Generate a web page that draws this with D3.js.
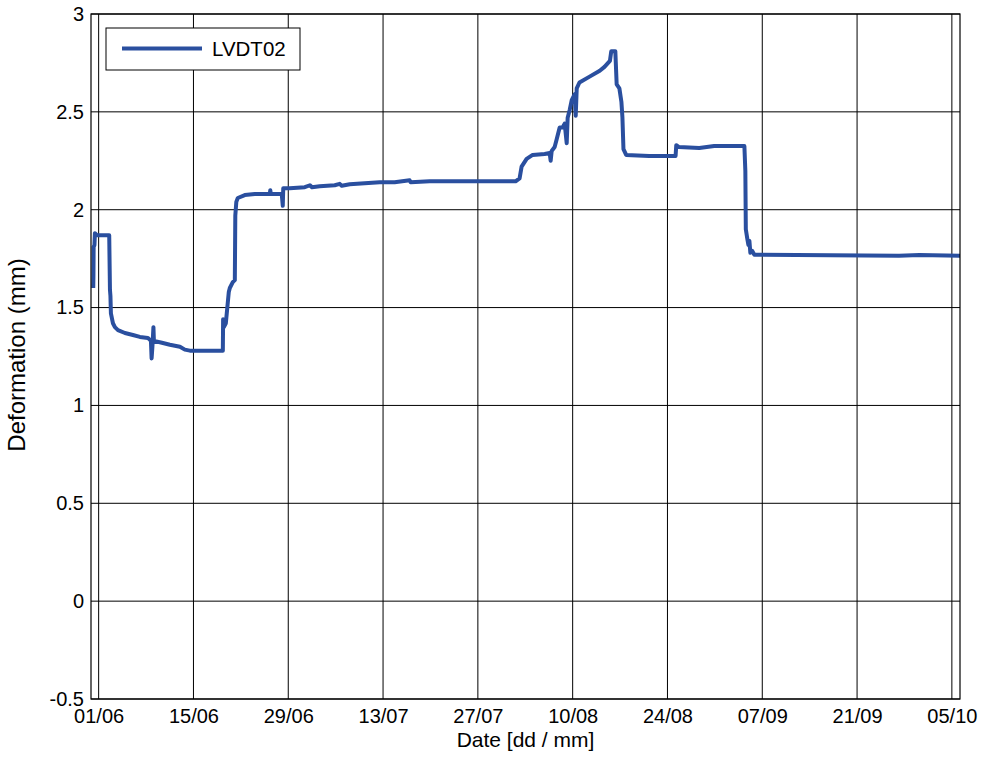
<!DOCTYPE html>
<html><head><meta charset="utf-8">
<script src="https://cdn.jsdelivr.net/npm/d3@7"></script>
<style>body{margin:0;background:#fff;} text{font-family:"Liberation Sans",Arial,sans-serif;}</style>
</head><body>
<svg id="chart" width="981" height="760"></svg>
<script>
// Days after 01/06 (fractional) and deformation (mm)
const days = [-0.80,-0.77,-0.74,-0.62,-0.55,-0.25,1.56,1.67,1.74,1.81,2.11,2.40,2.85,3.88,5.06,6.09,7.27,7.72,7.82,7.94,8.09,8.16,9.34,10.52,12.0,12.73,13.47,18.34,18.38,18.49,18.78,19.22,19.37,19.81,20.11,20.18,20.33,20.55,21.58,23.06,25.27,25.35,25.42,27.04,27.19,27.26,28.22,30.44,31.2,31.5,32.65,34.86,35.6,35.9,37.08,39.29,41.5,43.71,45.93,46.08,48.88,61.57,62.16,62.46,63.2,64.09,65.86,66.6,66.75,66.9,67.34,67.64,68.08,68.52,68.82,69.12,69.26,69.56,69.86,70.3,70.45,70.6,71.0,72.5,74.0,74.7,75.5,75.7,76.3,76.5,76.9,77.2,77.35,77.5,77.9,81.3,85.2,85.3,85.7,88.7,90.9,93.1,95.36,95.5,95.57,95.8,95.95,96.1,96.24,96.5,96.83,118.2,121.2,127.2];
const deformation = [1.60,1.66,1.81,1.82,1.88,1.87,1.87,1.59,1.56,1.47,1.42,1.40,1.385,1.37,1.36,1.35,1.345,1.33,1.24,1.30,1.40,1.33,1.32,1.31,1.30,1.285,1.28,1.28,1.44,1.40,1.42,1.58,1.60,1.63,1.64,1.97,2.04,2.06,2.075,2.08,2.08,2.10,2.08,2.08,2.02,2.11,2.11,2.115,2.125,2.115,2.12,2.125,2.132,2.122,2.13,2.135,2.14,2.14,2.15,2.14,2.145,2.145,2.16,2.22,2.26,2.28,2.285,2.29,2.25,2.30,2.32,2.36,2.42,2.42,2.44,2.34,2.47,2.51,2.56,2.59,2.48,2.62,2.65,2.68,2.71,2.73,2.76,2.81,2.81,2.64,2.62,2.55,2.47,2.31,2.28,2.275,2.275,2.33,2.32,2.315,2.325,2.325,2.325,2.2,1.90,1.85,1.82,1.84,1.78,1.79,1.77,1.765,1.768,1.765];
const xTickLabels = ["01/06","15/06","29/06","13/07","27/07","10/08","24/08","07/09","21/09","05/10"];
const yTicks = [-0.5,0,0.5,1,1.5,2,2.5,3];
const seriesName = "LVDT02";

const base = Date.UTC(2012,5,1);
const toDate = d => new Date(base + d*864e5);
const data = days.map((d,i)=>({t:toDate(d), v:deformation[i]}));
const tickDates = xTickLabels.map((_,i)=>toDate(i*14));

const svg = d3.select("#chart");
const L=91, R=960, T=14, B=699;
const x = d3.scaleUtc().domain([toDate(-1.13), toDate(127.2)]).range([L,R]);
const y = d3.scaleLinear().domain([-0.5,3]).range([B,T]);
const FONT = "Liberation Sans, Arial, sans-serif";

// gridlines
svg.append("g").selectAll("line").data(tickDates).join("line")
  .attr("x1",d=>x(d)).attr("x2",d=>x(d)).attr("y1",T).attr("y2",B)
  .attr("stroke","#000").attr("stroke-width",1);
svg.append("g").selectAll("line").data(yTicks).join("line")
  .attr("x1",L).attr("x2",R).attr("y1",d=>y(d)).attr("y2",d=>y(d))
  .attr("stroke","#000").attr("stroke-width",1);

// axes
const xAxis = d3.axisBottom(x).tickValues(tickDates).tickFormat((d,i)=>xTickLabels[i]).tickSize(0).tickPadding(10);
const gx = svg.append("g").attr("transform",`translate(0,${B})`).call(xAxis);
gx.select(".domain").remove();
gx.selectAll("text").attr("font-size",20).attr("fill","#000").attr("font-family",FONT);
const yAxis = d3.axisLeft(y).tickValues(yTicks).tickFormat(d=>String(d)).tickSize(0).tickPadding(7);
const gy = svg.append("g").attr("transform",`translate(${L},0)`).call(yAxis);
gy.select(".domain").remove();
gy.selectAll("text").attr("font-size",20).attr("fill","#000").attr("font-family",FONT);

// line
const line = d3.line().x(d=>x(d.t)).y(d=>y(d.v));
svg.append("path").datum(data).attr("d",line).attr("fill","none")
  .attr("stroke","#2a4f9f").attr("stroke-width",4).attr("stroke-linejoin","round");

// frame
svg.append("rect").attr("x",L).attr("y",T).attr("width",R-L).attr("height",B-T)
  .attr("fill","none").attr("stroke","#000").attr("stroke-width",1.2);

// legend
const lg = svg.append("g");
lg.append("rect").attr("x",106).attr("y",28).attr("width",194).attr("height",42)
  .attr("fill","#fff").attr("stroke","#000").attr("stroke-width",1);
lg.append("line").attr("x1",122).attr("x2",202).attr("y1",48.5).attr("y2",48.5)
  .attr("stroke","#2a4f9f").attr("stroke-width",4);
lg.append("text").attr("x",212).attr("y",56).attr("font-size",20.5).text(seriesName);

// titles
svg.append("text").attr("x",(L+R)/2).attr("y",747).attr("text-anchor","middle")
  .attr("font-size",21).text("Date [dd / mm]");
svg.append("text").attr("transform",`translate(25,355) rotate(-90)`).attr("text-anchor","middle")
  .attr("font-size",24).text("Deformation (mm)");
</script>
</body></html>
